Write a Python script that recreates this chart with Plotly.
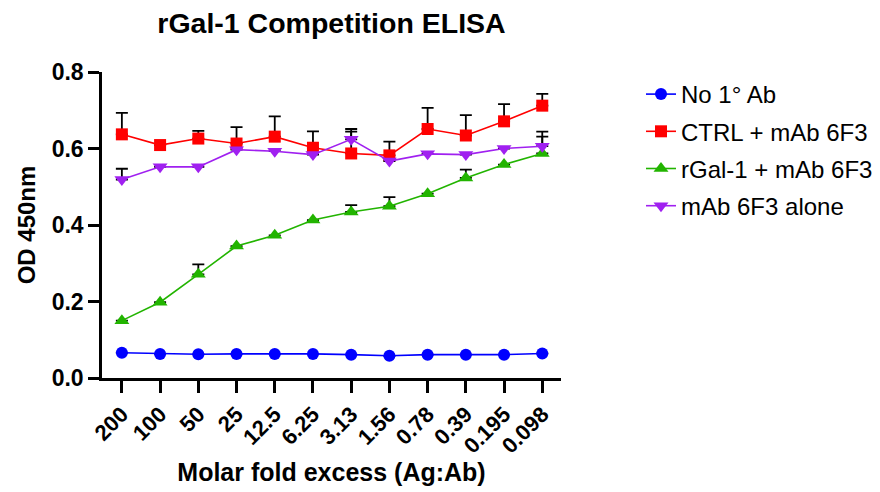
import plotly.graph_objects as go

categories = ["200", "100", "50", "25", "12.5", "6.25", "3.13", "1.56", "0.78", "0.39", "0.195", "0.098"]

no_primary = [0.066, 0.063, 0.062, 0.063, 0.063, 0.063, 0.061, 0.058, 0.061, 0.061, 0.061, 0.064]
no_primary_err = [0, 0, 0, 0, 0, 0, 0, 0, 0, 0, 0, 0]

ctrl = [0.637, 0.609, 0.626, 0.613, 0.631, 0.602, 0.587, 0.582, 0.651, 0.634, 0.671, 0.712]
ctrl_err = [0.056, 0.0, 0.020, 0.043, 0.053, 0.043, 0.064, 0.036, 0.055, 0.053, 0.045, 0.031]

rgal = [0.150, 0.198, 0.271, 0.345, 0.373, 0.413, 0.434, 0.449, 0.482, 0.523, 0.558, 0.587]
rgal_err = [0.0, 0.0, 0.026, 0.0, 0.0, 0.0, 0.018, 0.024, 0.0, 0.022, 0.0, 0.044]

alone = [0.519, 0.552, 0.552, 0.597, 0.593, 0.584, 0.624, 0.567, 0.586, 0.584, 0.600, 0.606]
alone_err = [0.028, 0.0, 0.0, 0.0, 0.0, 0.0, 0.020, 0.0, 0.0, 0.0, 0.0, 0.038]

FONT = "Arial, Liberation Sans, sans-serif"

series = [
    ("No 1° Ab", no_primary, no_primary_err, "#0000FF", "circle", 12),
    ("CTRL + mAb 6F3", ctrl, ctrl_err, "#FF0000", "square", 12),
    ("rGal-1 + mAb 6F3", rgal, rgal_err, "#22B400", "triangle-up", 13),
    ("mAb 6F3 alone", alone, alone_err, "#A020F0", "triangle-down", 13),
]

fig = go.Figure()
for i, (name, ys, errs, color, sym, size) in enumerate(series):
    fig.add_trace(go.Scatter(
        x=list(range(len(categories))), y=ys, name=name, mode="lines+markers",
        legendgroup=f"g{i}",
        line=dict(color=color, width=1.6),
        marker=dict(color=color, symbol=sym, size=size, line=dict(width=0)),
        error_y=dict(type="data", array=errs, arrayminus=[0] * len(errs), symmetric=False,
                     color="black", thickness=1.8, width=6),
    ))

fig.update_layout(
    width=880, height=492,
    margin=dict(l=102, r=319, t=72, b=114),
    paper_bgcolor="white", plot_bgcolor="white",
    font=dict(family=FONT, color="black"),
    title=dict(text="rGal-1 Competition ELISA", x=0.5, xref="paper", xanchor="center",
               y=1 - 23 / 492, yref="container", yanchor="middle",
               font=dict(size=28.5, weight="bold", family=FONT)),
    legend=dict(x=641 / 880, xref="container", y=1 - 72 / 492, yref="container",
                yanchor="top", xanchor="left", font=dict(size=24, family=FONT),
                tracegroupgap=3, itemwidth=30, bgcolor="rgba(0,0,0,0)"),
    showlegend=True,
)

fig.update_xaxes(
    range=[-0.52, 11.49], tickmode="array", tickvals=list(range(len(categories))), ticktext=categories,
    tickangle=-45, ticks="outside", ticklen=12, tickwidth=2.5, tickcolor="black",
    showline=True, linewidth=2.5, linecolor="black", showgrid=False, zeroline=False,
    automargin=False,
    tickfont=dict(size=22, weight="bold", family=FONT),
    title=dict(text="Molar fold excess (Ag:Ab)", font=dict(size=25, weight="bold", family=FONT), standoff=6),
)
fig.update_yaxes(
    range=[0, 0.8], tickvals=[0, 0.2, 0.4, 0.6, 0.8], tickformat=".1f",
    ticks="outside", ticklen=11, tickwidth=2.5, tickcolor="black",
    showline=True, linewidth=2.5, linecolor="black", showgrid=False, zeroline=False,
    automargin=False,
    tickfont=dict(size=23, weight="bold", family=FONT),
    title=dict(text="OD 450nm", font=dict(size=24, weight="bold", family=FONT), standoff=10),
)

fig.write_html("out.html")
